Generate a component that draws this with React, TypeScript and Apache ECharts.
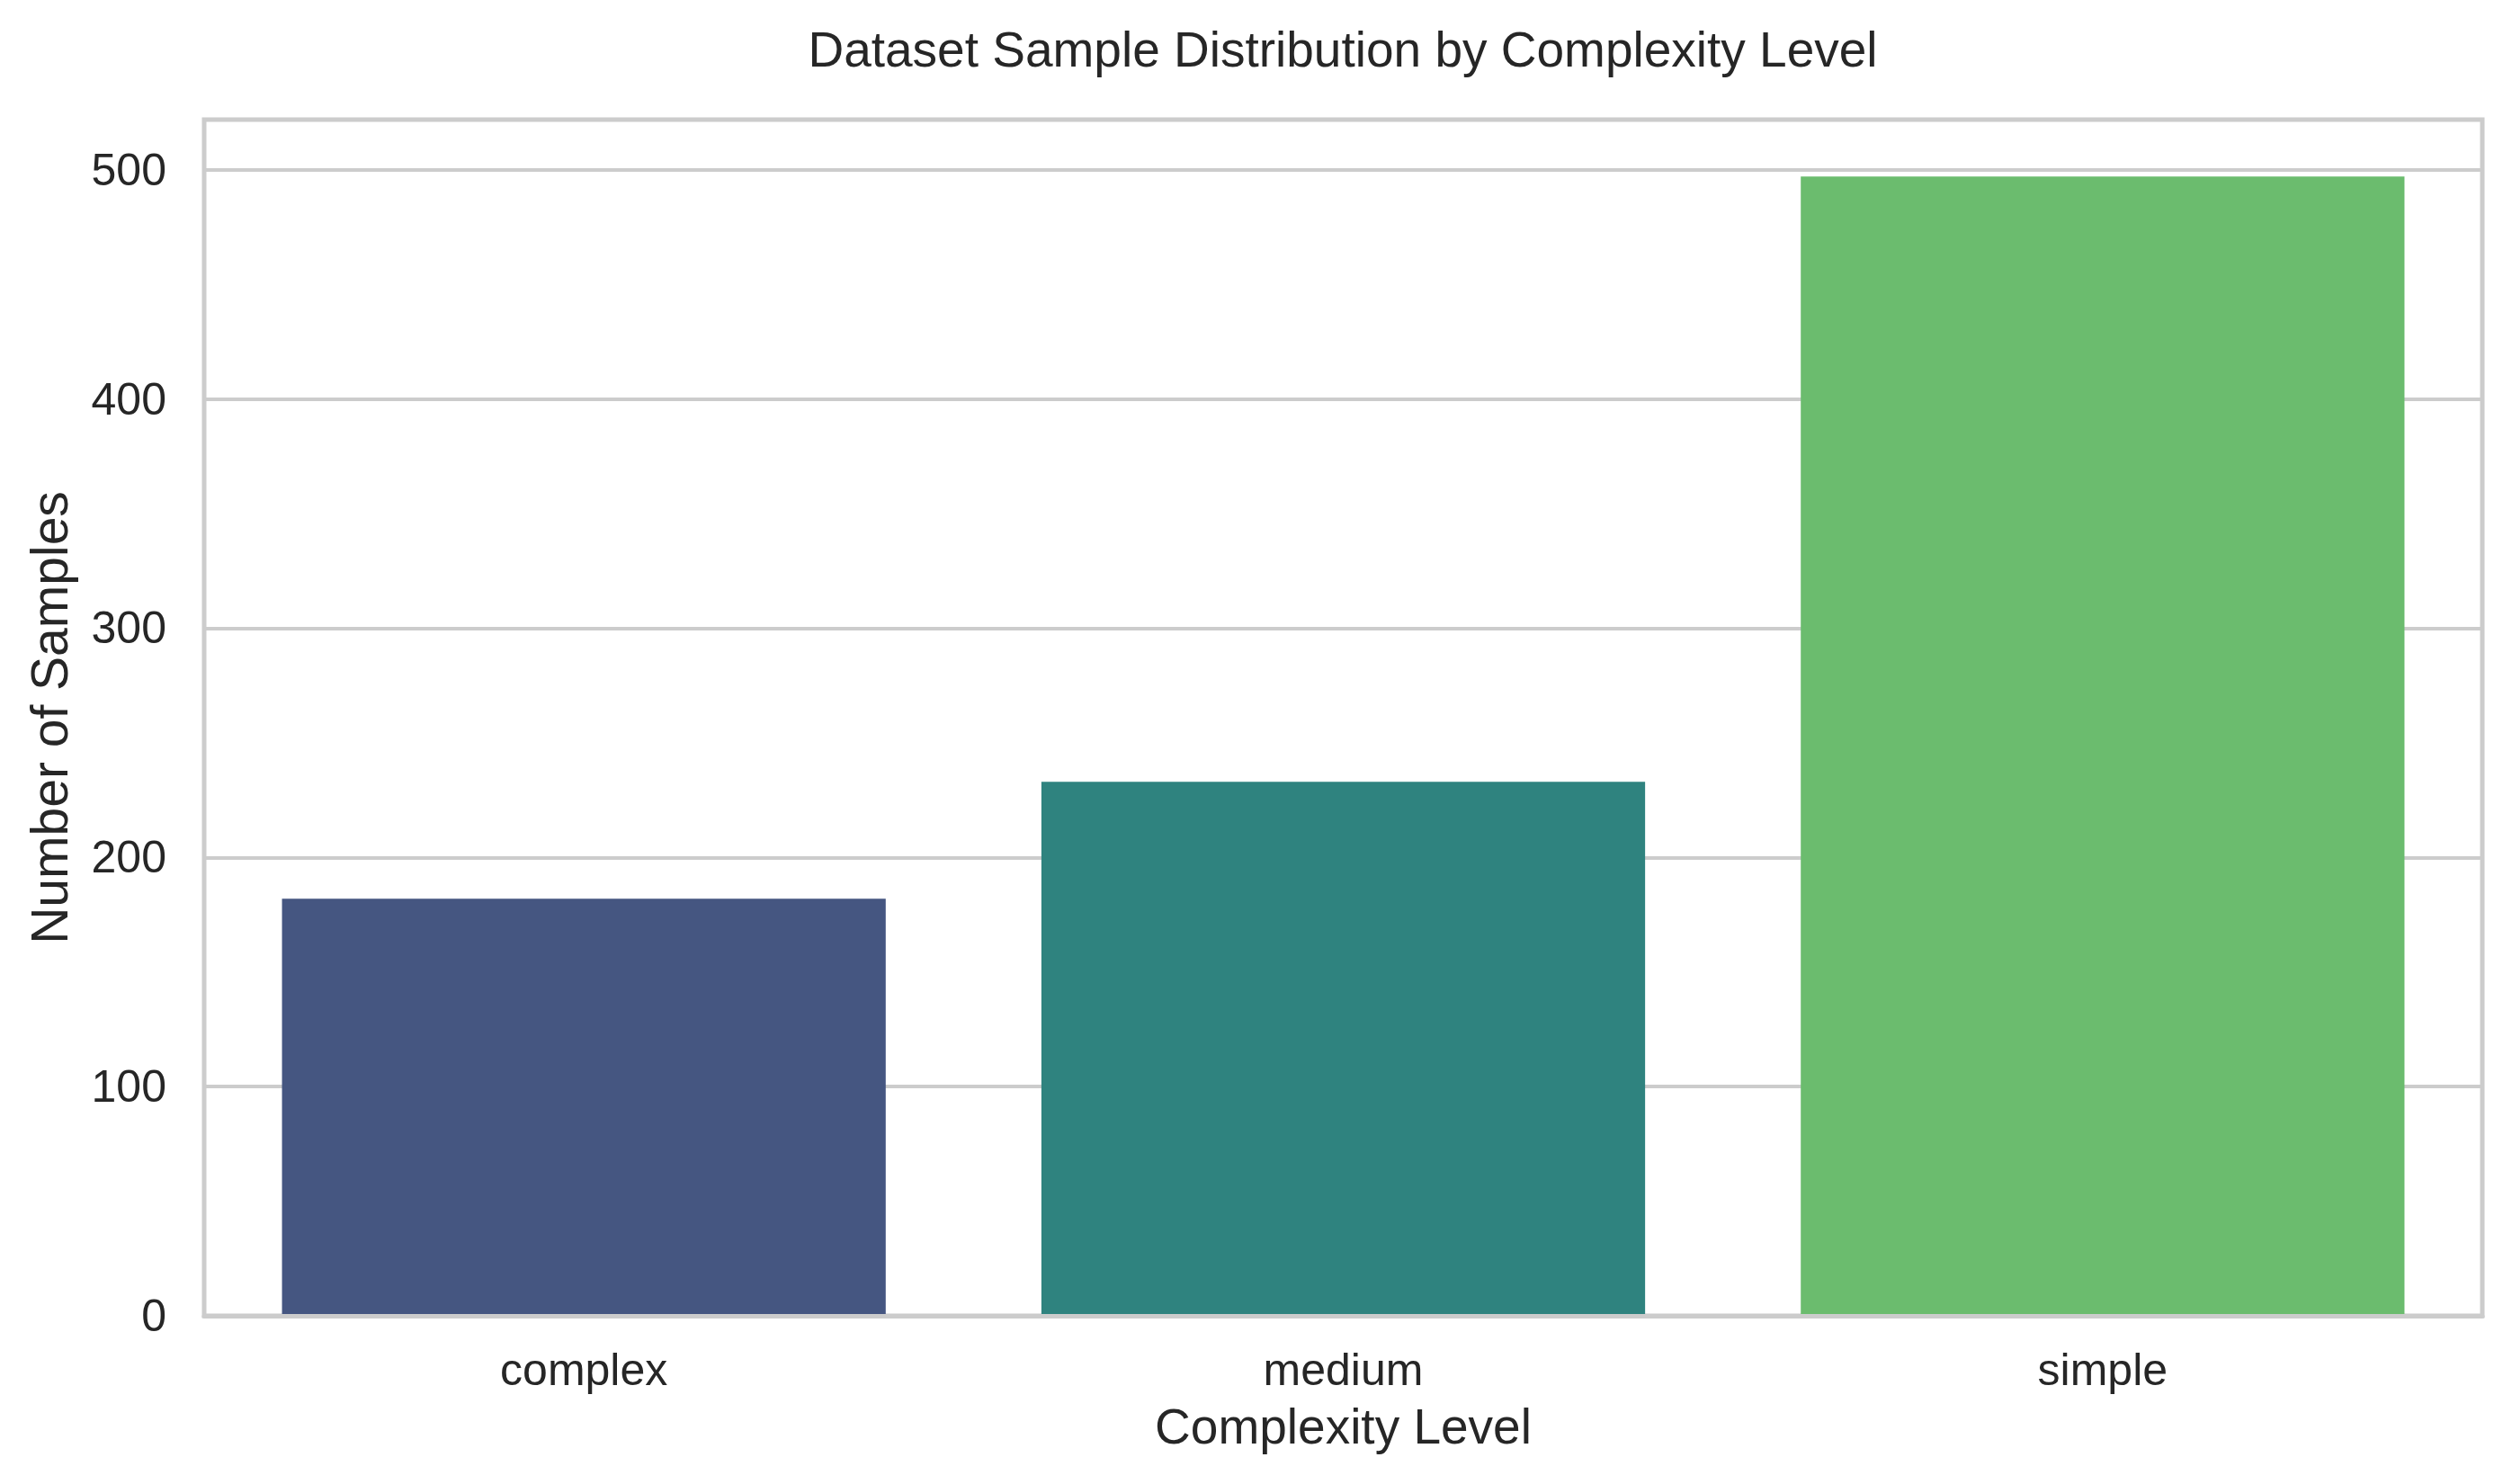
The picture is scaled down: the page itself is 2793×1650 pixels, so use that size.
import React, { useEffect, useRef } from "react";
import * as echarts from "echarts";

const categories = ["complex", "medium", "simple"];
const sampleCounts = [182, 233, 497];
const barColors = ["#455681", "#2f837f", "#6bbc6e"];
const yTicks = [0, 100, 200, 300, 400, 500];

const titleText = "Dataset Sample Distribution by Complexity Level";
const xAxisName = "Complexity Level";
const yAxisName = "Number of Samples";

const FONT = "'Liberation Sans', Arial, Helvetica, sans-serif";
const TEXT = "#262626";
const GRIDC = "#cccccc";

export default function App() {
  const ref = useRef<HTMLDivElement>(null);
  useEffect(() => {
    document.body.style.margin = "0";
    const chart = echarts.init(ref.current!, null, { renderer: "svg" });
    const yMax = Math.max(...sampleCounts) * 1.05;
    chart.setOption({
      animation: false,
      backgroundColor: "#ffffff",
      textStyle: { fontFamily: FONT },
      graphic: [
        {
          type: "text",
          x: 1493,
          y: 27,
          z: 10,
          style: {
            text: titleText,
            fill: TEXT,
            fontSize: 55,
            fontFamily: FONT,
            textAlign: "center",
            textVerticalAlign: "top",
          },
        },
      ],
      grid: {
        left: 227,
        top: 133,
        right: 33,
        bottom: 187,
        show: true,
        borderColor: GRIDC,
        borderWidth: 5,
        backgroundColor: "transparent",
      },
      xAxis: {
        type: "category",
        data: categories,
        z: 5,
        name: xAxisName,
        nameLocation: "middle",
        nameGap: 95,
        nameTextStyle: { fontSize: 55, color: TEXT, fontFamily: FONT },
        axisLine: { show: true, lineStyle: { color: GRIDC, width: 5 } },
        axisTick: { show: false },
        splitLine: { show: false },
        axisLabel: { fontSize: 50, color: TEXT, margin: 35, fontFamily: FONT },
      },
      yAxis: {
        type: "value",
        min: 0,
        max: yMax,
        interval: 100,
        name: yAxisName,
        nameLocation: "middle",
        nameGap: 144,
        nameRotate: 90,
        nameTextStyle: { fontSize: 57, color: TEXT, fontFamily: FONT },
        axisLine: { show: false },
        axisTick: { show: false },
        splitLine: { show: true, lineStyle: { color: GRIDC, width: 4 } },
        axisLabel: {
          fontSize: 50,
          color: TEXT,
          margin: 42,
          fontFamily: FONT,
          showMaxLabel: false,
          formatter: (v: number) => (yTicks.includes(v) ? String(v) : ""),
        },
      },
      series: [
        {
          type: "bar",
          barWidth: "79.5%",
          z: 2,
          data: sampleCounts.map((v, i) => ({
            value: v,
            itemStyle: { color: barColors[i] },
          })),
        },
      ],
    });
    return () => chart.dispose();
  }, []);
  return (
    <div
      ref={ref}
      style={{ position: "fixed", left: 0, top: 0, width: 2793, height: 1650 }}
    />
  );
}
